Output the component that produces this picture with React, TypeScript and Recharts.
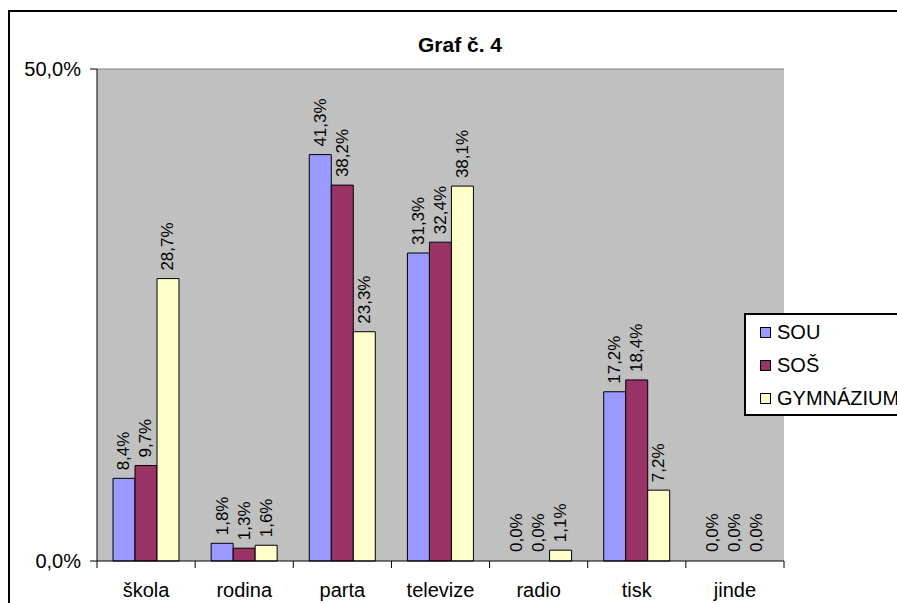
import { BarChart, Bar, XAxis, YAxis, CartesianGrid, ReferenceLine, Legend, LabelList, Cell } from 'recharts'

const categories = ['škola', 'rodina', 'parta', 'televize', 'radio', 'tisk', 'jinde']
const sou = [8.4, 1.8, 41.3, 31.3, 0.0, 17.2, 0.0]
const sos = [9.7, 1.3, 38.2, 32.4, 0.0, 18.4, 0.0]
const gymnazium = [28.7, 1.6, 23.3, 38.1, 1.1, 7.2, 0.0]
const yTicks = [0, 50]

const series = [
  { key: 'sou', name: 'SOU', color: '#9999FF', values: sou },
  { key: 'sos', name: 'SOŠ', color: '#993366', values: sos },
  { key: 'gym', name: 'GYMNÁZIUM', color: '#FFFFCC', values: gymnazium },
]

const data = categories.map((c, i) => ({ cat: c, sou: sou[i], sos: sos[i], gym: gymnazium[i] }))

const FONT = "'Liberation Sans', Arial, sans-serif"
const W = 897
const H = 603
const margin = { top: 69, right: 113, bottom: 0, left: 7 }
const Y_W = 90
const PLOT_W = W - margin.left - Y_W - margin.right
const BAND = PLOT_W / categories.length

const pct = (v: number) => v.toFixed(1).replace('.', ',') + '%'

function XTick(props: any) {
  const { x, y, payload, index } = props
  return (
    <g>
      <line x1={x - BAND / 2} x2={x - BAND / 2} y1={y} y2={y + 7} stroke="#000" />
      {index === categories.length - 1 && (
        <line x1={x + BAND / 2} x2={x + BAND / 2} y1={y} y2={y + 7} stroke="#000" />
      )}
      <text x={x} y={y + 36} textAnchor="middle" fontSize={20} fontFamily={FONT} fill="#000">
        {payload.value}
      </text>
    </g>
  )
}

function BarLabel(props: any) {
  const { x, y, width, height, value } = props
  const top = Math.min(y, y + height)
  const cx = x + width / 2
  const cy = top - 8
  return (
    <text
      x={cx}
      y={cy}
      transform={`rotate(-90, ${cx}, ${cy})`}
      textAnchor="start"
      dominantBaseline="central"
      fontSize={17}
      fontFamily={FONT}
      fill="#000"
    >
      {pct(Number(value))}
    </text>
  )
}

function LegendBox() {
  return (
    <div
      style={{
        width: 170,
        height: 103,
        background: '#fff',
        border: '2px solid #000',
        fontFamily: FONT,
        fontSize: 20,
        color: '#000',
        boxSizing: 'border-box',
        paddingTop: 1,
      }}
    >
      {series.map((s) => (
        <div key={s.key} style={{ display: 'flex', alignItems: 'center', height: 33 }}>
          <span
            style={{
              width: 9,
              height: 9,
              marginLeft: 14,
              marginRight: 6,
              background: s.color,
              border: '1px solid #000',
            }}
          />
          <span>{s.name}</span>
        </div>
      ))}
    </div>
  )
}

export default function App() {
  return (
    <div style={{ position: 'absolute', left: 0, top: 0, width: W, height: H, overflow: 'hidden', background: '#fff' }}>
      <div
        style={{
          position: 'absolute',
          left: 8,
          top: 10,
          width: 1000,
          height: 1000,
          borderTop: '2px solid #000',
          borderLeft: '2px solid #000',
        }}
      />
      <div
        style={{
          position: 'absolute',
          left: 360,
          width: 200,
          top: 34,
          textAlign: 'center',
          fontFamily: FONT,
          fontWeight: 'bold',
          fontSize: 21,
          lineHeight: '21px',
        }}
      >
        Graf č. 4
      </div>
      <div style={{ position: 'absolute', left: 0, top: 0 }}>
        <BarChart width={W} height={H} data={data} margin={margin} barCategoryGap={16} barGap={0}>
          <CartesianGrid fill="#C0C0C0" horizontal={false} vertical={false} />
          <XAxis
            dataKey="cat"
            height={42}
            tickLine={false}
            tickSize={0}
            tickMargin={0}
            axisLine={{ stroke: '#000' }}
            tick={<XTick />}
            interval={0}
          />
          <YAxis
            width={Y_W}
            domain={[0, 50]}
            ticks={yTicks}
            tickFormatter={pct}
            tickSize={7}
            tickMargin={9}
            axisLine={{ stroke: '#000' }}
            tickLine={{ stroke: '#000' }}
            tick={{ fill: '#000', fontSize: 20, fontFamily: FONT }}
          />
          <YAxis
            yAxisId="r"
            orientation="right"
            width={0}
            domain={[0, 50]}
            tick={false}
            tickLine={false}
            axisLine={{ stroke: '#808080' }}
          />
          <ReferenceLine y={50} stroke="#808080" />
          {series.map((s) => (
            <Bar
              key={s.key}
              dataKey={s.key}
              name={s.name}
              fill={s.color}
              stroke="#000"
              strokeWidth={1}
              minPointSize={1}
              isAnimationActive={false}
            >
              {s.values.map((v, i) => (
                <Cell
                  key={i}
                  fill={v === 0 ? 'none' : s.color}
                  stroke={v === 0 ? 'none' : '#000'}
                />
              ))}
              <LabelList dataKey={s.key} content={<BarLabel />} />
            </Bar>
          ))}
          <Legend
            layout="vertical"
            align="center"
            verticalAlign="middle"
            content={<LegendBox />}
            wrapperStyle={{ position: 'absolute', left: 744, top: 313, width: 170, height: 103 }}
          />
        </BarChart>
      </div>
    </div>
  )
}
